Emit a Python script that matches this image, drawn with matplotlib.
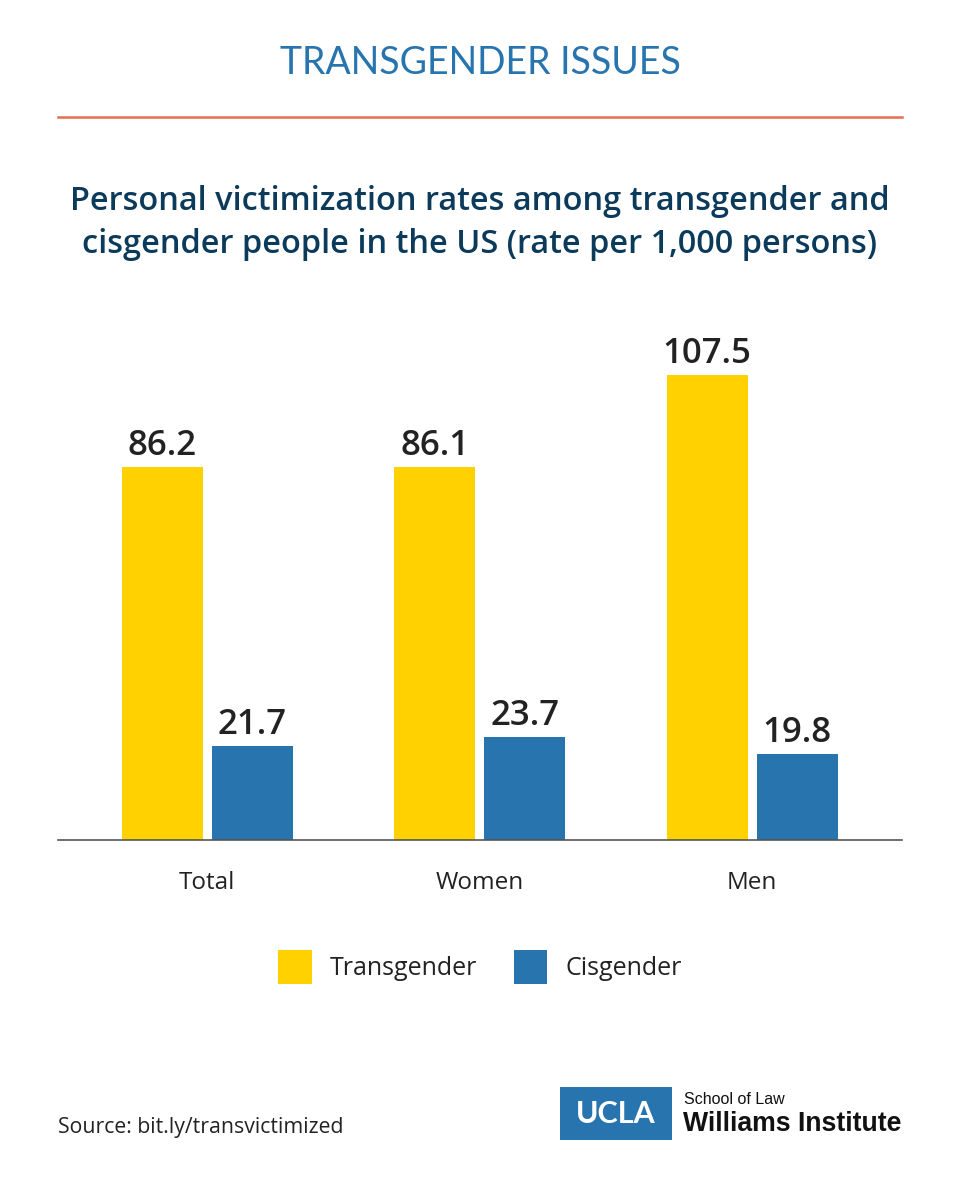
import matplotlib
matplotlib.use("Agg")
import matplotlib.pyplot as plt
from matplotlib.patches import Rectangle
import numpy as np

# data
categories = ["Total", "Women", "Men"]
transgender = [86.2, 86.1, 107.5]
cisgender = [21.7, 23.7, 19.8]
series_names = ["Transgender", "Cisgender"]

GOLD = "#FFD100"; BLUE = "#2774AE"; NAVY = "#0B3A5A"; ORANGE = "#E5704F"; INK = "#222222"

fig = plt.figure(figsize=(9.6, 12), dpi=100)
fig.patch.set_facecolor("white")

# header
fig.text(0.5, 1 - 63 / 1200, "TRANSGENDER ISSUES", ha="center", va="center",
         fontsize=27, color=BLUE, family="Lato")
fig.add_artist(plt.Line2D([58 / 960, 902 / 960], [1 - 117 / 1200] * 2, color=ORANGE, lw=1.8))
for yy, line in ((201, "Personal victimization rates among transgender and"),
                 (245, "cisgender people in the US (rate per 1,000 persons)")):
    fig.text(0.5, 1 - yy / 1200, line, ha="center", va="center", fontsize=23.4,
             color=NAVY, family="Open Sans", weight="semibold")

# bars
ax = fig.add_axes([58 / 960, 0.3, 844 / 960, 0.45])
x = np.arange(len(categories))
w = 0.297; off = 0.165
b1 = ax.bar(x - off, transgender, w, color=GOLD, label=series_names[0])
b2 = ax.bar(x + off, cisgender, w, color=BLUE, label=series_names[1])
for bars, vals in ((b1, transgender), (b2, cisgender)):
    for r, v in zip(bars, vals):
        ax.text(r.get_x() + r.get_width() / 2, v + 2.8, f"{v:.1f}", ha="center", va="baseline",
                fontsize=25, weight="semibold", color=INK, family="Open Sans")
ax.set_xlim(-0.547, 2.55)
ax.set_ylim(0, 124.8)
for s in ("top", "right", "left"):
    ax.spines[s].set_visible(False)
ax.spines["bottom"].set_color("#555555"); ax.spines["bottom"].set_linewidth(1.2)
ax.set_yticks([])
ax.set_xticks(x)
ax.set_xticklabels(categories, fontsize=17.5, color=INK, family="Open Sans")
ax.tick_params(axis="x", length=0, pad=22)

# legend
leg = fig.legend(handles=[b1, b2], labels=series_names, loc="center",
                 bbox_to_anchor=(0.5, 1 - 967 / 1200), ncol=2, frameon=False,
                 prop={"family": "Open Sans", "size": 18}, handlelength=1.35, handleheight=1.75,
                 columnspacing=1.45, handletextpad=0.72)
for t in leg.get_texts():
    t.set_color(INK)

# footer
fig.text(58 / 960, 1 - 1127 / 1200, "Source: bit.ly/transvictimized", ha="left", va="center",
         fontsize=15.3, color=INK, family="Open Sans")
fig.add_artist(Rectangle((560 / 960, 1 - 1140 / 1200), 112 / 960, 53 / 1200,
                         transform=fig.transFigure, color=BLUE, lw=0))
fig.text(616 / 960, 1 - 1114 / 1200, "UCLA", ha="center", va="center", fontsize=22,
         color="white", weight="bold", family="Lato")
fig.text(684 / 960, 1 - 1100 / 1200, "School of Law", ha="left", va="center", fontsize=11.5,
         color="#111111", family="Liberation Sans")
fig.text(683 / 960, 1 - 1124 / 1200, "Williams Institute", ha="left", va="center", fontsize=19.2,
         color="#111111", weight="bold", family="Liberation Sans")

fig.savefig("out.png", dpi=100)
